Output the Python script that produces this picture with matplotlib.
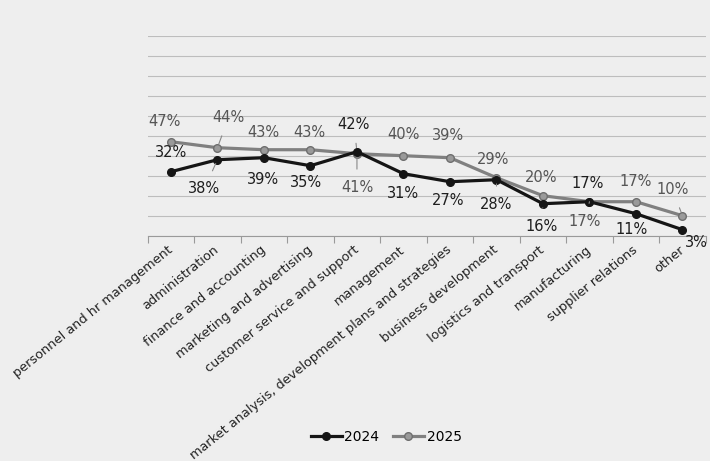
import matplotlib
matplotlib.use("Agg")
import matplotlib.pyplot as plt
from matplotlib.ticker import FixedLocator

categories = [
    "personnel and hr management",
    "administration",
    "finance and accounting",
    "marketing and advertising",
    "customer service and support",
    "management",
    "market analysis, development plans and strategies",
    "business development",
    "logistics and transport",
    "manufacturing",
    "supplier relations",
    "other",
]
values_2024 = [32, 38, 39, 35, 42, 31, 27, 28, 16, 17, 11, 3]
values_2025 = [47, 44, 43, 43, 41, 40, 39, 29, 20, 17, 17, 10]
series_names = ["2024", "2025"]

# label offsets in pixels (dx, dy) and whether a leader line is drawn
offsets_2024 = [(0, 19, False), (-13, -29, True), (-1, -22, False), (-4, -17, False),
                (-3, 27, True), (0, -20, False), (-2, -19, False), (0, -25, True),
                (-1, -23, True), (-2, 18, False), (-4, -16, False), (14, -13, False)]
offsets_2025 = [(-6, 20, False), (11, 30, True), (-1, 17, False), (-1, 17, False),
                (0, -34, True), (0, 21, False), (-2, 22, False), (-3, 18, False),
                (-2, 18, False), (-5, -20, True), (0, 20, False), (-10, 26, True)]

bg = "#eeeeee"
fig = plt.figure(figsize=(7.1, 4.61), dpi=100, facecolor=bg)
ax = fig.add_axes([0.208, 0.4887, 0.786, 0.4338])
ax.set_facecolor(bg)

x = list(range(len(categories)))
c24, c25 = "#151515", "#808080"
ax.plot(x, values_2024, color=c24, lw=2.3, marker="o", ms=5.5,
        mfc=c24, mec=c24, label=series_names[0], zorder=4)
ax.plot(x, values_2025, color=c25, lw=2.3, marker="o", ms=5.5,
        mfc="#9a9a9a", mec="#6e6e6e", label=series_names[1], zorder=3)

def put_labels(vals, offs, color):
    for xi, v, (dx, dy, lead) in zip(x, vals, offs):
        kw = {}
        if lead:
            kw["arrowprops"] = dict(arrowstyle="-", color="#888888", lw=0.8,
                                    shrinkA=6, shrinkB=3)
        ax.annotate(f"{v}%", (xi, v), xytext=(dx, dy), textcoords="offset pixels",
                    ha="center", va="center", fontsize=10.5, color=color,
                    zorder=6, **kw)

put_labels(values_2024, offsets_2024, "#1e1e1e")
put_labels(values_2025, offsets_2025, "#555555")

ax.set_xlim(-0.5, len(categories) - 0.5)
ax.set_ylim(0, 100)
ax.set_yticks(range(0, 101, 10))
ax.yaxis.grid(True, color="#bdbdbd", lw=0.8)
ax.set_axisbelow(True)
ax.tick_params(axis="y", left=False, labelleft=False)

ax.set_xticks(x)
ax.set_xticklabels(categories, rotation=39, ha="right", va="center",
                   rotation_mode="anchor", fontsize=9.3, color="#222222")
ax.tick_params(axis="x", which="major", length=0, pad=9)
ax.xaxis.set_minor_locator(FixedLocator([i - 0.5 for i in range(len(categories) + 1)]))
ax.tick_params(axis="x", which="minor", length=5, color="#9a9a9a", width=0.8)

for s in ["left", "right", "top"]:
    ax.spines[s].set_visible(False)
ax.spines["bottom"].set_color("#9a9a9a")
ax.spines["bottom"].set_linewidth(0.8)

fig.legend(loc="center", bbox_to_anchor=(0.544, 0.052), ncol=2, frameon=False,
           fontsize=10, handlelength=2.2, handletextpad=0.2, columnspacing=1.0)

fig.savefig("out.png", dpi=100, facecolor=bg)
